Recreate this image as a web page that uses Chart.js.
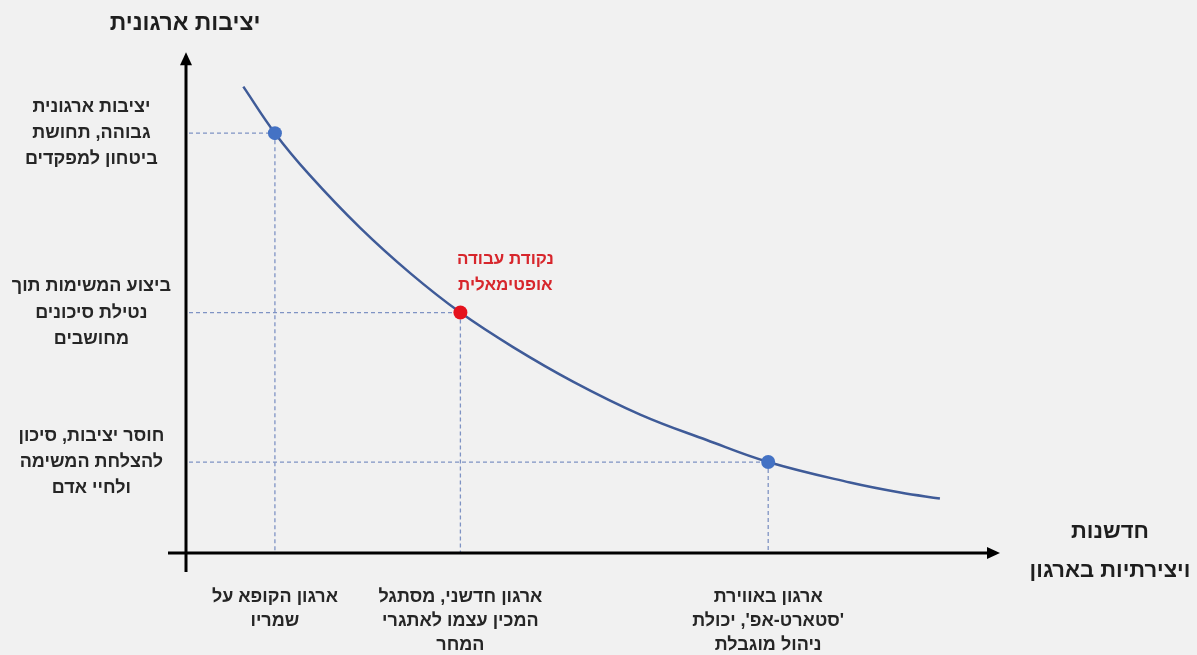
<!DOCTYPE html>
<html lang="he">
<head>
<meta charset="utf-8">
<script src="https://cdn.jsdelivr.net/npm/chart.js@4/dist/chart.umd.min.js"></script>
<style>
  html, body { margin: 0; padding: 0; background: #f1f1f1; }
  #wrap { position: relative; width: 1197px; height: 655px; }
</style>
</head>
<body>
<div id="wrap"><canvas id="c" dir="rtl"></canvas></div>
<script>
// ---- data ----
const curveX = [7.2, 11.1, 15.4, 21.6, 27.8, 34.0, 40.5, 47.9, 56.2, 64.4, 72.0, 82.1, 88.3, 93.2];
const curveY = [93.3, 84.0, 75.6, 65.1, 56.0, 48.1, 41.2, 34.3, 27.7, 22.6, 18.2, 14.1, 12.1, 10.9];
const markerX = [11.1, 34.0, 72.0];
const markerY = [84.0, 48.1, 18.2];
const markerColors = ['#4472c4', '#e5121d', '#4472c4'];
const xTickLabels = [
  ['ארגון הקופא על', 'שמריו'],
  ['ארגון חדשני, מסתגל', 'המכין עצמו לאתגרי', 'המחר'],
  ['ארגון באווירת', "'סטארט-אפ', יכולת", 'ניהול מוגבלת']
];
const yTickLabels = [
  ['יציבות ארגונית', 'גבוהה, תחושת', 'ביטחון למפקדים'],
  ['ביצוע המשימות תוך', 'נטילת סיכונים', 'מחושבים'],
  ['חוסר יציבות, סיכון', 'להצלחת המשימה', 'ולחיי אדם']
];
const yAxisTitle = 'יציבות ארגונית';
const xAxisTitle = ['חדשנות', 'ויצירתיות בארגון'];
const optimumLabel = ['נקודת עבודה', 'אופטימאלית'];
const optimumIndex = 1;

const FONT = "'Liberation Sans', Arial, 'DejaVu Sans', sans-serif";

const decor = {
  id: 'decor',
  beforeDraw(chart) {
    const ctx = chart.ctx;
    ctx.save();
    ctx.fillStyle = '#f1f1f1';
    ctx.fillRect(0, 0, chart.width, chart.height);
    ctx.restore();
  },
  beforeDatasetsDraw(chart) {
    const ctx = chart.ctx;
    const xs = chart.scales.x, ys = chart.scales.y;
    const x0 = xs.getPixelForValue(0), y0 = ys.getPixelForValue(0);
    ctx.save();
    // dashed guides
    ctx.strokeStyle = '#7f93c4';
    ctx.lineWidth = 1.3;
    ctx.setLineDash([4, 3]);
    markerX.forEach((mx, i) => {
      const px = xs.getPixelForValue(mx), py = ys.getPixelForValue(markerY[i]);
      ctx.beginPath();
      ctx.moveTo(x0 + 4, py); ctx.lineTo(px, py);
      ctx.moveTo(px, py); ctx.lineTo(px, y0);
      ctx.stroke();
    });
    ctx.setLineDash([]);
    // axes with arrows
    ctx.strokeStyle = '#000';
    ctx.fillStyle = '#000';
    ctx.lineWidth = 3;
    const yTop = ys.getPixelForValue(100);
    const xEnd = xs.getPixelForValue(100) + 5;
    ctx.beginPath();
    ctx.moveTo(x0 + 1, y0 + 19); ctx.lineTo(x0 + 1, yTop + 10);
    ctx.moveTo(x0 - 17, y0); ctx.lineTo(xEnd - 10, y0);
    ctx.stroke();
    ctx.beginPath();
    ctx.moveTo(x0 + 1, yTop - 1); ctx.lineTo(x0 - 5, yTop + 12); ctx.lineTo(x0 + 7, yTop + 12); ctx.closePath();
    ctx.fill();
    ctx.beginPath();
    ctx.moveTo(xEnd, y0); ctx.lineTo(xEnd - 13, y0 - 6); ctx.lineTo(xEnd - 13, y0 + 6); ctx.closePath();
    ctx.fill();
    ctx.restore();
  },
  afterDraw(chart) {
    const ctx = chart.ctx;
    const xs = chart.scales.x, ys = chart.scales.y;
    const x0 = xs.getPixelForValue(0), y0 = ys.getPixelForValue(0);
    ctx.save();
    ctx.direction = 'rtl';
    ctx.textAlign = 'center';
    ctx.textBaseline = 'middle';
    // y axis title
    ctx.fillStyle = '#1e1e1e';
    ctx.font = 'bold 23px ' + FONT;
    ctx.fillText(yAxisTitle, x0, 24);
    // x axis title
    ctx.font = 'bold 22px ' + FONT;
    xAxisTitle.forEach((t, i) => ctx.fillText(t, 1110, y0 - 21 + i * 39));
    // optimum label
    const rx = xs.getPixelForValue(markerX[optimumIndex]);
    const ry = ys.getPixelForValue(markerY[optimumIndex]);
    ctx.fillStyle = '#d7262c';
    ctx.font = 'bold 17px ' + FONT;
    optimumLabel.forEach((t, i) => ctx.fillText(t, rx + 45, ry - 53 + i * 26));
    ctx.restore();
  }
};

new Chart(document.getElementById('c'), {
  type: 'scatter',
  data: {
    datasets: [
      {
        data: markerX.map((x, i) => ({ x, y: markerY[i] })),
        pointRadius: 7,
        pointHoverRadius: 7,
        pointBackgroundColor: markerColors,
        pointBorderColor: markerColors,
        pointBorderWidth: 0,
        showLine: false
      },
      {
        data: curveX.map((x, i) => ({ x, y: curveY[i] })),
        showLine: true,
        pointRadius: 0,
        borderColor: '#3f5b98',
        borderWidth: 2.5,
        tension: 0.4
      }
    ]
  },
  options: {
    responsive: true,
    maintainAspectRatio: false,
    animation: false,
    events: [],
    layout: { padding: { top: 48, right: 202, left: 0, bottom: 0 } },
    plugins: { legend: { display: false }, tooltip: { enabled: false } },
    scales: {
      x: {
        type: 'linear', min: 0, max: 100,
        grid: { display: false, drawTicks: false },
        border: { display: false },
        afterBuildTicks(s) { s.ticks = markerX.map(v => ({ value: v })); },
        afterFit(s) { s.height = 102; },
        ticks: {
          autoSkip: false, maxRotation: 0, minRotation: 0,
          padding: 32,
          color: '#262626',
          font: { family: FONT, size: 18, weight: 'bold', lineHeight: 1.33 },
          callback: (v, i) => xTickLabels[i]
        }
      },
      y: {
        type: 'linear', min: 0, max: 100,
        grid: { display: false, drawTicks: false },
        border: { display: false },
        afterBuildTicks(s) { s.ticks = markerY.map(v => ({ value: v })); },
        afterFit(s) { s.width = 185; },
        ticks: {
          autoSkip: false,
          crossAlign: 'center',
          padding: 14,
          color: '#262626',
          font: { family: FONT, size: 18, weight: 'bold', lineHeight: 1.45 },
          callback: (v, i) => yTickLabels[i]
        }
      }
    }
  },
  plugins: [decor]
});
</script>
</body>
</html>
